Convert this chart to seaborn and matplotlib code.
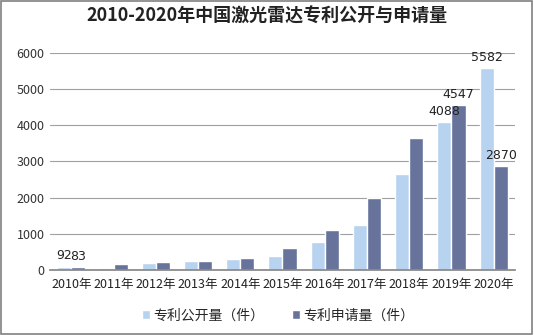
import matplotlib
matplotlib.use("Agg")
import matplotlib.pyplot as plt
import seaborn as sns
import pandas as pd
from matplotlib.ticker import FixedLocator

years = ["2010年", "2011年", "2012年", "2013年", "2014年", "2015年",
         "2016年", "2017年", "2018年", "2019年", "2020年"]
published = [92, 60, 185, 240, 295, 400, 780, 1250, 2660, 4088, 5582]
applied = [83, 155, 210, 240, 320, 620, 1115, 1990, 3650, 4547, 2870]
series_names = ["专利公开量（件）", "专利申请量（件）"]
labeled_years = ["2010年", "2019年", "2020年"]

sns.set_theme(style="white")
plt.rcParams['font.family'] = ['Noto Sans CJK SC', 'DejaVu Sans']

df = pd.DataFrame({
    "year": years * 2,
    "value": published + applied,
    "series": [series_names[0]] * len(years) + [series_names[1]] * len(years),
})

fig = plt.figure(figsize=(5.34, 3.35), dpi=100)
ax = fig.add_axes([0.094, 0.194, 0.87, 0.648])
palette = {series_names[0]: "#B8D3EF", series_names[1]: "#67739B"}
sns.barplot(data=df, x="year", y="value", hue="series", palette=palette,
            width=0.67, saturation=1, ax=ax, legend=True)

ax.set_ylim(0, 6000)
ax.set_yticks(range(0, 6001, 1000))
ax.yaxis.grid(True, color="#A0A0A0", linewidth=0.8)
ax.set_axisbelow(True)
for s in ["top", "right", "left"]:
    ax.spines[s].set_visible(False)
ax.spines["bottom"].set_color("#888888")
ax.set_xlim(-0.5, len(years) - 0.5)
ax.set_xlabel("")
ax.set_ylabel("")
ax.tick_params(axis="y", labelsize=9, colors="#333333", length=0, pad=4)
ax.tick_params(axis="x", which="major", labelsize=9, colors="#222222", length=0, pad=6)
ax.xaxis.set_minor_locator(FixedLocator([i - 0.5 for i in range(len(years) + 1)]))
ax.tick_params(axis="x", which="minor", length=4, color="#888888", direction="out")

for cont, vals in zip(ax.containers, [published, applied]):
    for bar, v, yr in zip(cont, vals, years):
        if yr in labeled_years:
            ax.text(bar.get_x() + bar.get_width() / 2, v + 120, str(v),
                    ha="center", va="bottom", fontsize=9, color="#222222",
                    family=["DejaVu Sans"])

leg = ax.legend(loc="upper center", bbox_to_anchor=(0.49, -0.12), ncol=2,
                frameon=False, fontsize=10, handlelength=0.6, handleheight=0.6,
                columnspacing=2.0, handletextpad=0.2)

fig.suptitle("2010-2020年中国激光雷达专利公开与申请量", x=0.5, y=0.98,
             fontsize=13, fontweight="bold", color="#222222")

fig.patches.append(plt.Rectangle((0.002, 0.003), 0.995, 0.994, transform=fig.transFigure,
                                 fill=False, edgecolor="#808080", linewidth=1.2))
fig.savefig("out.png", dpi=100)
